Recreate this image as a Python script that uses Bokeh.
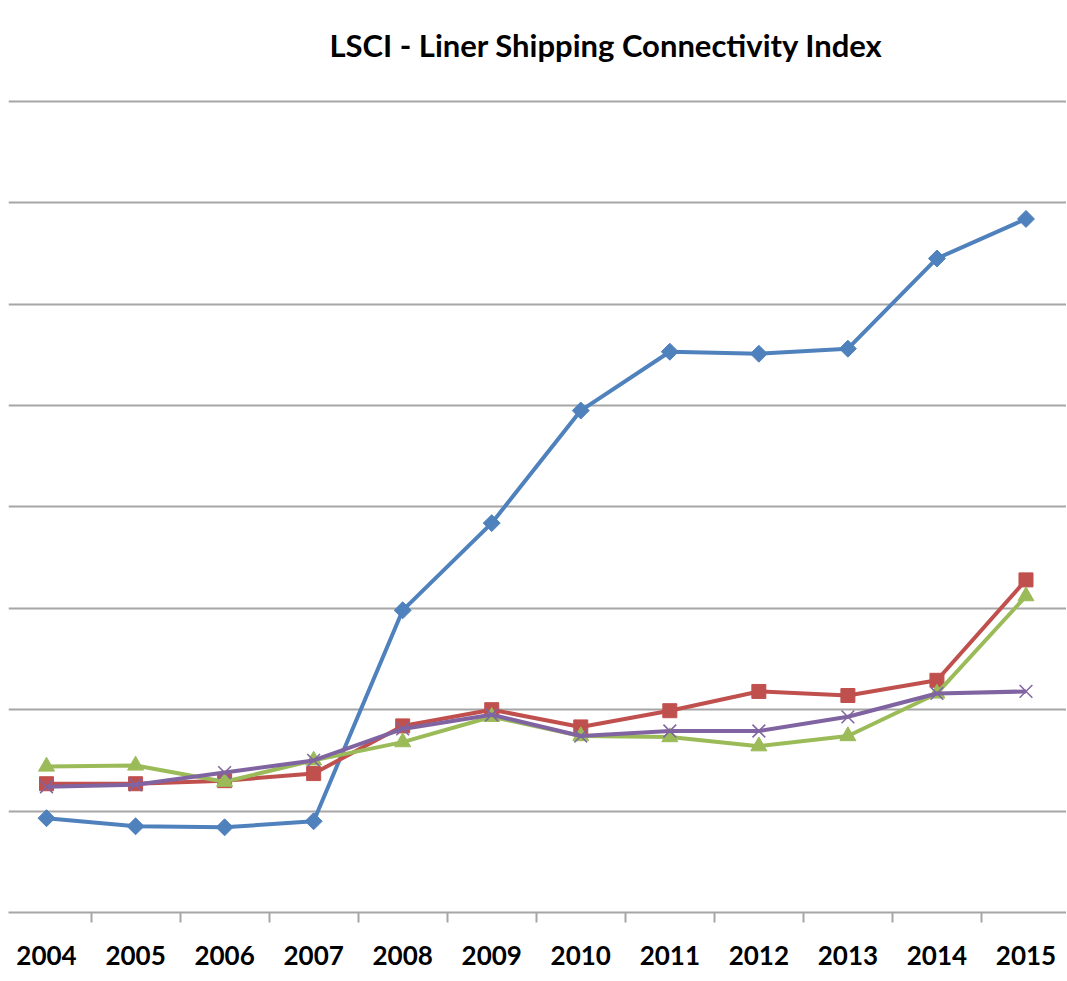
from bokeh.plotting import figure
from bokeh.models import FixedTicker, Label, Range1d
from bokeh.embed import file_html
from bokeh.resources import INLINE
import math

years = ["2004", "2005", "2006", "2007", "2008", "2009",
         "2010", "2011", "2012", "2013", "2014", "2015"]
series_blue = [0.93, 0.85, 0.84, 0.90, 2.98, 3.84, 4.95, 5.53, 5.51, 5.56, 6.45, 6.84]
series_red = [1.27, 1.27, 1.30, 1.37, 1.84, 2.00, 1.83, 1.99, 2.18, 2.14, 2.29, 3.28]
series_green = [1.44, 1.45, 1.29, 1.50, 1.68, 1.93, 1.74, 1.73, 1.64, 1.74, 2.16, 3.12]
series_purple = [1.24, 1.26, 1.38, 1.50, 1.81, 1.95, 1.74, 1.79, 1.79, 1.93, 2.16, 2.18]
grid_values = [0, 1, 2, 3, 4, 5, 6, 7, 8]
title_text = "LSCI - Liner Shipping Connectivity Index"

xs = list(range(len(years)))

p = figure(width=1066, height=973, output_backend="svg", toolbar_location=None,
           x_range=Range1d(-0.427, (1066 - 46.5) / 89.0), y_range=Range1d(0, 8.915),
           min_border_left=8, min_border_right=0, min_border_top=8,
           min_border_bottom=61)
p.outline_line_color = None
p.background_fill_color = "white"
p.border_fill_color = "white"
p.yaxis.visible = False
p.xgrid.visible = False
p.ygrid.ticker = FixedTicker(ticks=grid_values)
p.ygrid.grid_line_color = "#A6A6A6"
p.ygrid.grid_line_width = 2

ax = p.xaxis[0]
ax.ticker = FixedTicker(ticks=xs, minor_ticks=[i + 0.5 for i in range(len(years) - 1)])
ax.major_label_overrides = {i: y for i, y in enumerate(years)}
ax.major_tick_line_color = None
ax.major_tick_out = 0
ax.major_tick_in = 0
ax.minor_tick_out = 10
ax.minor_tick_in = 0
ax.minor_tick_line_color = "#A6A6A6"
ax.minor_tick_line_width = 2
ax.axis_line_color = "#A6A6A6"
ax.axis_line_width = 2
ax.major_label_text_font = "Lato"
ax.major_label_text_font_style = "bold"
ax.major_label_text_font_size = "26px"
ax.major_label_text_color = "black"
ax.major_label_standoff = 23

colors = {"blue": "#4F81BD", "red": "#C0504D", "green": "#9BBB59", "purple": "#8064A2"}

p.line(xs, series_blue, line_color=colors["blue"], line_width=4)
p.scatter(xs, series_blue, marker="square", size=12, angle=math.pi / 4,
          fill_color=colors["blue"], line_color=colors["blue"])

p.line(xs, series_red, line_color=colors["red"], line_width=4)
p.scatter(xs, series_red, marker="square", size=14, fill_color=colors["red"], line_color=colors["red"])

p.line(xs, series_green, line_color=colors["green"], line_width=4)
p.scatter(xs, series_green, marker="triangle", size=16, fill_color=colors["green"], line_color=colors["green"])

p.line(xs, series_purple, line_color=colors["purple"], line_width=4)
p.scatter(xs, series_purple, marker="x", size=18, line_color=colors["purple"], line_width=1.5)

title = Label(x=(606 - 46.5) / 89.0, y=(912 - 45) / 101.4, text=title_text,
              text_align="center", text_baseline="middle", text_font="Lato",
              text_font_style="bold", text_font_size="31px", text_color="black")
p.add_layout(title)

open("out.html", "w").write(file_html(p, INLINE))
